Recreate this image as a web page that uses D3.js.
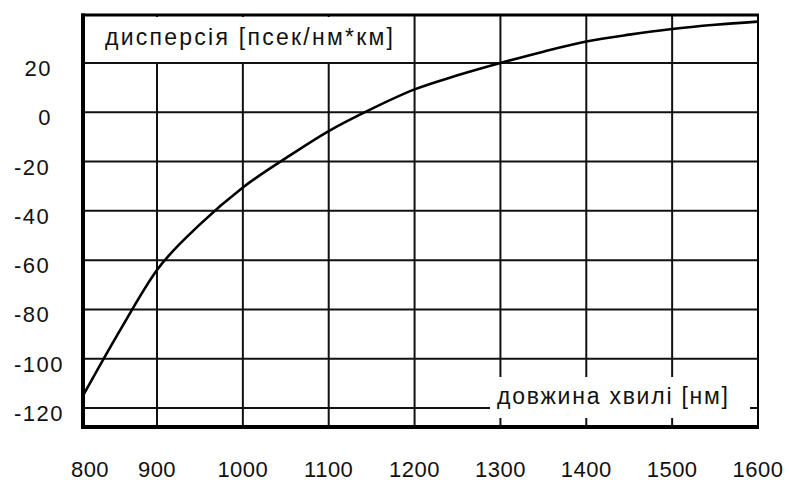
<!DOCTYPE html>
<html>
<head>
<meta charset="utf-8">
<script src="https://cdn.jsdelivr.net/npm/d3@7"></script>
<style>
  html, body { margin: 0; padding: 0; background: #fff; }
  svg { display: block; }
  text { font-family: "Liberation Sans", Arial, sans-serif; fill: #111; }
</style>
</head>
<body>
<svg id="chart" width="789" height="483"></svg>
<script>
// ---- data ----
const wavelengths = [800, 850, 900, 950, 1000, 1050, 1100, 1150, 1200, 1250, 1300, 1350, 1400, 1450, 1500, 1550, 1600];
const dispersion  = [-115, -88.5, -64, -45.5, -30.5, -18.6, -7.6, 1.4, 9.3, 15, 20, 24.6, 28.7, 31.5, 33.8, 35.5, 36.8];
const xTicks = [800, 900, 1000, 1100, 1200, 1300, 1400, 1500, 1600];
const yTicks = [20, 0, -20, -40, -60, -80, -100, -120];
const yTitle = "дисперсія [псек/нм*км]";
const xTitle = "довжина хвилі [нм]";

// ---- layout ----
const pL = 83, pR = 758, pT = 15, pB = 427;
const svg = d3.select("#chart");

const x = d3.scaleLinear().domain([800, 900, 1600]).range([pL, 157, pR]);
const y = d3.scaleLinear().domain([-120, 20]).range([408, 63]);

// grid
const grid = svg.append("g").attr("stroke", "#111").attr("stroke-width", 2);
grid.selectAll("line.v").data(xTicks.slice(1, -1)).join("line")
  .attr("class", "v")
  .attr("x1", d => x(d)).attr("x2", d => x(d))
  .attr("y1", pT).attr("y2", pB);
grid.selectAll("line.h").data(yTicks).join("line")
  .attr("class", "h")
  .attr("x1", pL).attr("x2", pR)
  .attr("y1", d => y(d)).attr("y2", d => y(d));

// white label boxes covering the grid
svg.append("rect").attr("x", pL + 2).attr("y", pT + 2)
  .attr("width", 400 - pL).attr("height", y(20) - pT - 3).attr("fill", "#fff");
svg.append("rect").attr("x", 490).attr("y", 377)
  .attr("width", 260).attr("height", 41).attr("fill", "#fff");

// curve
const line = d3.line().x((d, i) => x(wavelengths[i])).y(d => y(d)).curve(d3.curveMonotoneX);
svg.append("path").datum(dispersion)
  .attr("d", line)
  .attr("fill", "none").attr("stroke", "#000").attr("stroke-width", 2.6)
  .attr("stroke-linejoin", "round");

// frame
const frame = svg.append("g").attr("stroke", "#000");
frame.append("line").attr("x1", pL).attr("x2", pL).attr("y1", pT - 1.5).attr("y2", pB + 2).attr("stroke-width", 4);
frame.append("line").attr("x1", pL - 2).attr("x2", pR + 1).attr("y1", pB).attr("y2", pB).attr("stroke-width", 4);
frame.append("line").attr("x1", pL - 2).attr("x2", pR + 1).attr("y1", pT).attr("y2", pT).attr("stroke-width", 3);
frame.append("line").attr("x1", pR).attr("x2", pR).attr("y1", pT).attr("y2", pB).attr("stroke-width", 2);

// titles
svg.append("text").attr("x", 105).attr("y", 45)
  .attr("font-size", 23).attr("textLength", 288).attr("lengthAdjust", "spacing")
  .text(yTitle);
svg.append("text").attr("x", 497).attr("y", 404)
  .attr("font-size", 23).attr("textLength", 231).attr("lengthAdjust", "spacing")
  .text(xTitle);

// y tick labels
svg.append("g").selectAll("text").data(yTicks).join("text")
  .attr("x", d => d < 0 ? 14 : 52)
  .attr("y", d => y(d) + 13)
  .attr("text-anchor", d => d < 0 ? "start" : "end")
  .attr("font-size", 22)
  .attr("letter-spacing", 1.5)
  .text(d => d);

// x tick labels (kept clear of the left frame)
svg.append("g").selectAll("text").data(xTicks).join("text")
  .attr("x", d => Math.max(x(d), pL + 7))
  .attr("y", 477)
  .attr("text-anchor", "middle")
  .attr("font-size", 22)
  .attr("letter-spacing", 0.5)
  .text(d => d);
</script>
</body>
</html>
